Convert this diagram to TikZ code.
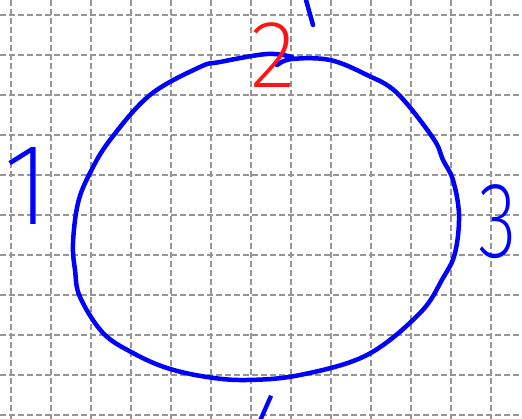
\documentclass[tikz,border=0pt]{standalone}
\usepackage{fontspec}
\newfontfamily\hand{Fira Sans ExtraLight}
\definecolor{penblue}{RGB}{0,0,255}
\definecolor{penred}{RGB}{255,20,20}
\definecolor{gridgray}{RGB}{150,150,150}
\tikzset{
  gridline/.style={draw=gridgray, line width=1.6pt, dash pattern=on 6pt off 3pt},
  pen/.style={draw=penblue, line width=4.5pt, line cap=round, line join=round},
  digit/.style={inner sep=0pt, anchor=base, text=penblue},
}
\begin{document}
\begin{tikzpicture}[x=1pt,y=-1pt]
\useasboundingbox (0,0) rectangle (522,419);
\clip (0,0) rectangle (522,419);
\fill[white] (0,0) rectangle (522,419);
% grid
\foreach \gx in {11,51,...,491} \draw[gridline] (\gx,0) -- (\gx,419);
\foreach \gy in {15,55,...,415} \draw[gridline] (0,\gy) -- (522,\gy);
% circle (hand drawn)
\draw[pen] plot[smooth, tension=0.6] coordinates {
  (277,65) (292,59) (330,60) (367,75) (397,93) (433,138) (443,160) (453,180)
  (459,215) (455,253) (443,278) (420,313) (367,355) (300,375) (247,380)
  (207,377) (167,368) (133,353) (103,333) (80,297) (75,270) (73,243)
  (78,203) (90,173) (110,140) (150,95) (200,67) (220,62) (267,54) (292,57)};
% tick at top
\draw[pen] (306,0) -- (313,25);
% labels
\node[digit, font=\hand\fontsize{116}{116}\selectfont] (one) at (27,225) {1};
\node[digit, font=\hand\fontsize{96}{96}\selectfont, text=penred] (two) at (273,88) {2};
\node[digit, font=\hand\fontsize{108}{108}\selectfont, xscale=0.74, transform shape] (three) at (498,258) {3};
\node[digit, font=\hand\fontsize{104}{104}\selectfont] (four) at (270,465) {4};
\end{tikzpicture}
\end{document}
